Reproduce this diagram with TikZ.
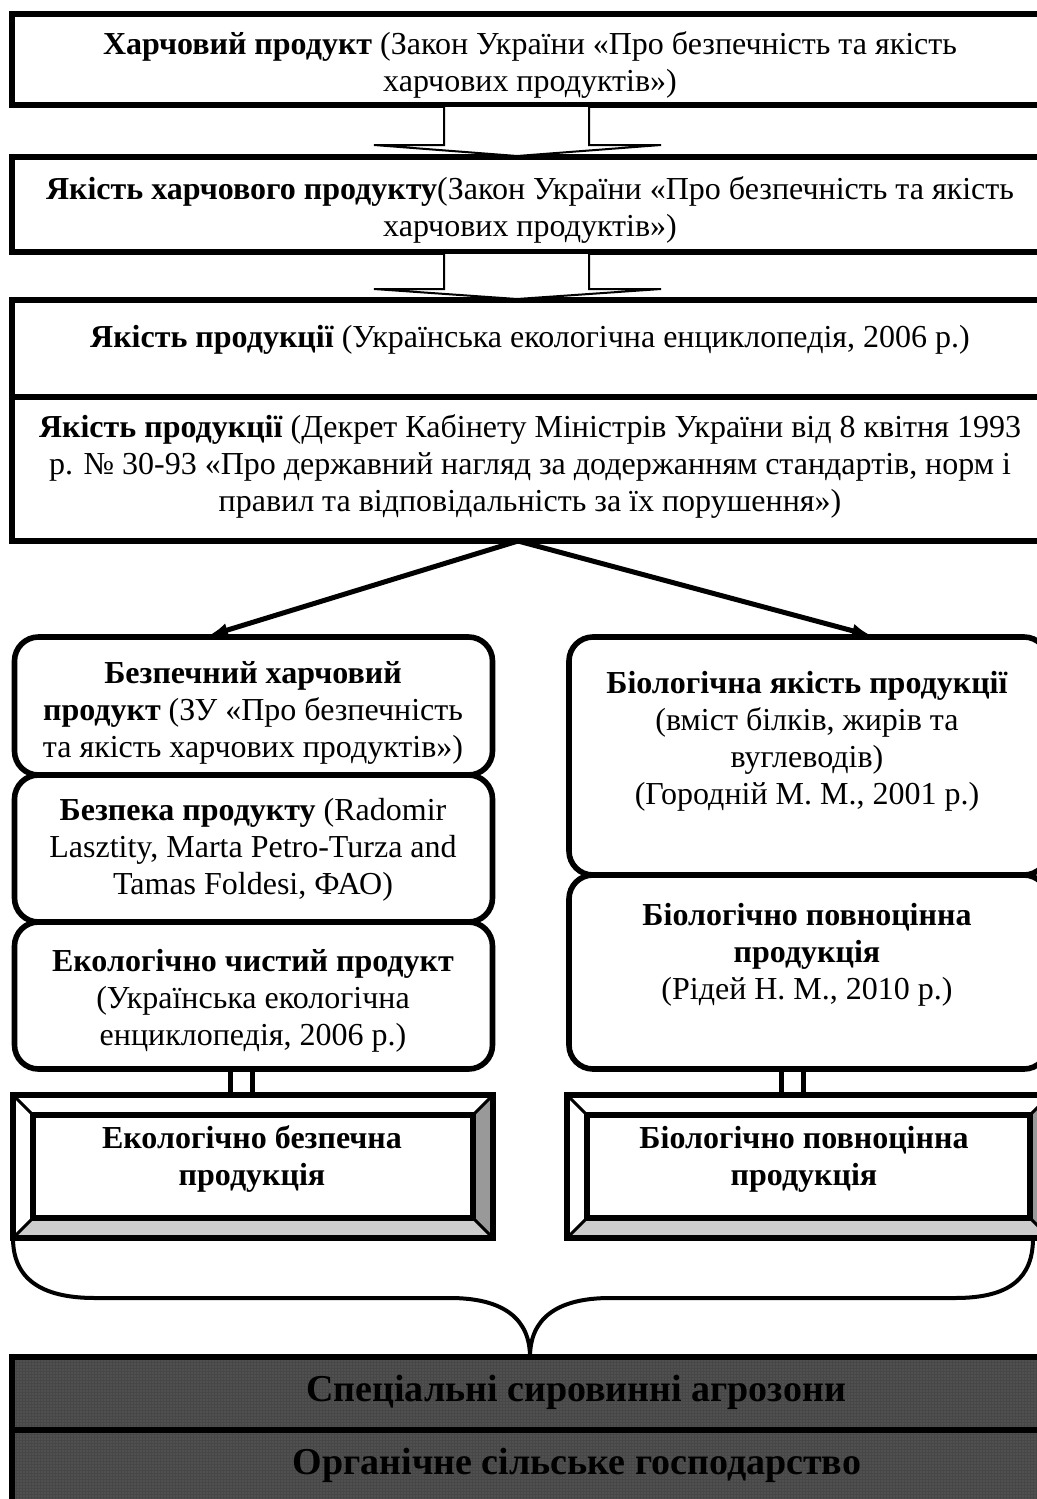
\documentclass[tikz,border=0pt]{standalone}
\usepackage{fontspec}
\setmainfont{Liberation Serif}
\usetikzlibrary{calc,arrows.meta,patterns.meta,backgrounds}
\definecolor{darkfill}{HTML}{474747}
\definecolor{dotcol}{HTML}{707070}
\definecolor{bevR}{HTML}{999999}
\definecolor{bevB}{HTML}{CCCCCC}
\begin{document}
\begin{tikzpicture}[x=0.5pt,y=-0.5pt,
  txt/.style={align=center,inner sep=0pt,font=\fontsize{16pt}{18.5pt}\selectfont},
  bigtxt/.style={align=center,inner sep=0pt,font=\fontsize{19pt}{22pt}\selectfont\bfseries},
  sqbox/.style={draw,line width=3pt,inner sep=0pt,outer sep=0pt},
  rbox/.style={draw,line width=2.8pt,rounded corners=12pt,inner sep=0pt,outer sep=0pt},
  hollow/.style={draw,line width=1pt,fill=white,line join=miter},
  arr/.style={line width=2.5pt,-{Latex[length=10pt,width=7pt]}},
  dbl/.style={double,double distance=8.5pt,line width=2.6pt},
  bevout/.style={draw,line width=2.6pt,inner sep=0pt,outer sep=0pt},
  bevin/.style={draw,line width=2.6pt,inner sep=0pt,outer sep=0pt},
  bevdiag/.style={line width=1.5pt},
  bracestyle/.style={line width=2pt},
  darkbox/.style={draw,line width=3pt,inner sep=0pt,outer sep=0pt,preaction={fill=darkfill},pattern={Dots[distance=1.5pt,radius=0.35pt]},pattern color=dotcol}
]
\useasboundingbox (0,0) rectangle (1037,1499);

% top boxes
\node[sqbox,minimum width=518pt,minimum height=45.5pt] (b1) at (530,59.5) {};
\node[sqbox,minimum width=518pt,minimum height=47.5pt] (b2) at (530,204.5) {};
\node[sqbox,minimum width=518pt,minimum height=48.5pt] (b3) at (530,348.5) {};
\node[sqbox,minimum width=518pt,minimum height=72pt] (b4) at (530,469) {};

\node[txt] (t1) at (530,65) {\textbf{Харчовий продукт} (Закон України «Про безпечність та якість\\харчових продуктів»)};
\node[txt] (t2) at (530,210) {\textbf{Якість харчового продукту}(Закон України «Про безпечність та якість\\харчових продуктів»)};
\node[txt] (t3) at (530,340) {\textbf{Якість продукції} (Українська екологічна енциклопедія, 2006 р.)};
\node[txt] (t4) at (530,466) {\textbf{Якість продукції} (Декрет Кабінету Міністрів України від 8 квітня 1993\\р. № 30-93 «Про державний нагляд за додержанням стандартів, норм і\\правил та відповідальність за їх порушення»)};

% hollow arrows
\coordinate (h1) at (517,107);
\coordinate (h1tip) at (517,156);
\draw[hollow] ($(h1)+(-73,0)$) -- ($(h1)+(-73,38)$) -- ($(h1)+(-143,38)$) -- (h1tip) -- ($(h1)+(144,38)$) -- ($(h1)+(72,38)$) -- ($(h1)+(72,0)$);
\coordinate (h2) at (517,254);
\coordinate (h2tip) at (517,299);
\draw[hollow] ($(h2)+(-73,0)$) -- ($(h2)+(-73,35)$) -- ($(h2)+(-143,35)$) -- (h2tip) -- ($(h2)+(144,35)$) -- ($(h2)+(72,35)$) -- ($(h2)+(72,0)$);

% left column
\node[rbox,minimum width=239pt,minimum height=69pt] (l1) at (253.5,706) {};
\node[rbox,minimum width=239pt,minimum height=73.5pt] (l2) at (253.5,848.5) {};
\node[rbox,minimum width=239pt,minimum height=73.5pt] (l3) at (253.5,995.5) {};
\node[txt] (tl1) at (253,713) {\textbf{Безпечний харчовий}\\\textbf{продукт} (ЗУ «Про безпечність\\та якість харчових продуктів»)};
\node[txt] (tl2) at (253,850) {\textbf{Безпека продукту} (Radomir\\Lasztity, Marta Petro-Turza and\\Tamas Foldesi, ФАО)};
\node[txt] (tl3) at (253,1001) {\textbf{Екологічно чистий продукт}\\(Українська екологічна\\енциклопедія, 2006 р.)};

% right column
\node[rbox,minimum width=239.5pt,minimum height=119pt] (r1) at (808.5,756) {};
\node[rbox,minimum width=239.5pt,minimum height=97pt] (r2) at (808.5,972) {};
\node[txt] (tr1) at (807,741) {\textbf{Біологічна якість продукції}\\(вміст білків, жирів та\\вуглеводів)\\(Городній М. М., 2001 р.)};
\node[txt] (tr2) at (807,955) {\textbf{Біологічно повноцінна}\\\textbf{продукція}\\(Рідей Н. М., 2010 р.)};

% split arrows
\coordinate (split) at (518,541);
\draw[arr] (split) -- ($(l1.north)+(-45.5,-1)$);
\draw[arr] (split) -- ($(r1.north)+(63.5,-1)$);

% bevel boxes
\node[bevout,minimum width=240pt,minimum height=71.5pt] (eb) at (253,1166.5) {};
\node[bevin,minimum width=220pt,minimum height=51.5pt] (ebi) at (253,1166.5) {};
\node[bevout,minimum width=241.5pt,minimum height=71.5pt] (rb) at (808.5,1166.5) {};
\node[bevin,minimum width=221.5pt,minimum height=51.5pt] (rbi) at (808.5,1166.5) {};
\begin{scope}[on background layer]
  \fill[bevR] (eb.north east) -- (eb.south east) -- (ebi.south east) -- (ebi.north east) -- cycle;
  \fill[bevB] (eb.south west) -- (eb.south east) -- (ebi.south east) -- (ebi.south west) -- cycle;
  \fill[bevR] (rb.north east) -- (rb.south east) -- (rbi.south east) -- (rbi.north east) -- cycle;
  \fill[bevB] (rb.south west) -- (rb.south east) -- (rbi.south east) -- (rbi.south west) -- cycle;
  \draw[dbl] ($(l3.south)+(-12,0)$) -- ($(eb.north)+(-11.5,0)$);
  \draw[dbl] ($(r2.south)+(-16,0)$) -- ($(rb.north)+(-16,0)$);
\end{scope}
\foreach \c in {north west,north east,south west,south east}{
  \draw[bevdiag] (eb.\c) -- (ebi.\c);
  \draw[bevdiag] (rb.\c) -- (rbi.\c);
}
\node[txt,font=\fontsize{16pt}{18.5pt}\selectfont\bfseries] (teb) at (252,1159) {Екологічно безпечна\\продукція};
\node[txt,font=\fontsize{16pt}{18.5pt}\selectfont\bfseries] (trb) at (804,1159) {Біологічно повноцінна\\продукція};

% bottom boxes
\node[darkbox,minimum width=519pt,minimum height=36.5pt] (d1) at (531,1393.5) {};
\node[darkbox,minimum width=519pt,minimum height=41pt] (d2) at (531,1471) {};
\node[bigtxt] (td1) at (576,1392) {Спеціальні сировинні агрозони};
\node[bigtxt] (td2) at (577,1465) {Органічне сільське господарство};

% brace
\draw[bracestyle] (eb.south west) .. controls (13,1278) and (40,1298) .. (95,1298) -- (450,1298)
  .. controls (505,1298) and (530,1320) .. (d1.north -| 530,0);
\draw[bracestyle] (d1.north -| 530,0) .. controls (530,1320) and (555,1298) .. (610,1298) -- (955,1298)
  .. controls (1010,1298) and (1033,1278) .. (1033,1238);
\end{tikzpicture}
\end{document}
